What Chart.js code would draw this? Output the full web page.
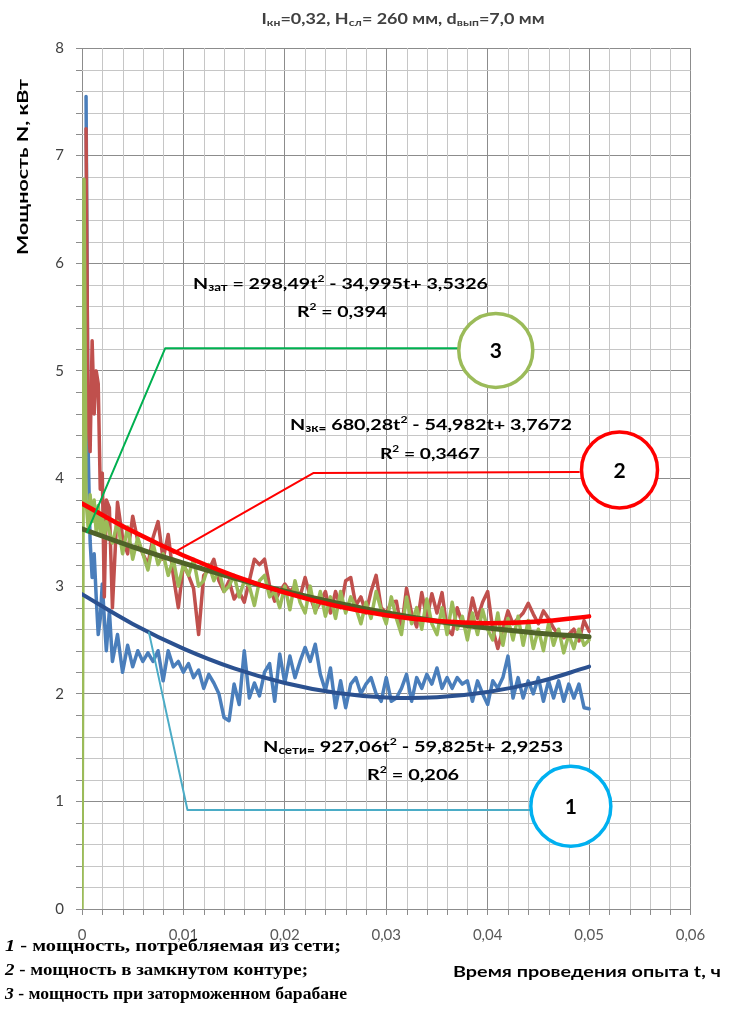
<!DOCTYPE html>
<html><head><meta charset="utf-8">
<script src="https://cdn.jsdelivr.net/npm/chart.js@4.4.0/dist/chart.umd.min.js"></script>
<style>html,body{margin:0;padding:0;background:#fff;}canvas{display:block;}</style>
</head><body>
<canvas id="c" width="734" height="1025"></canvas>
<script>
// ---- data (t, hours; N, kW) ----
const times = [0,0.0002,0.0004,0.0006,0.0008,0.001,0.0012,0.0014,0.0016,0.0018,0.002,0.0022,0.0024,0.0027,
0.003,0.0035,0.004,0.0045,0.005,0.0055,0.006,0.0065,0.007,0.0075,
0.008,0.0085,0.009,0.0095,0.01,0.0105,0.011,0.0115,0.012,0.0125,
0.013,0.0135,0.014,0.0145,0.015,0.0155,0.016,0.0165,0.017,0.0175,
0.018,0.0185,0.019,0.0195,0.02,0.0205,0.021,0.0215,0.022,0.0225,
0.023,0.0235,0.024,0.0245,0.025,0.0255,0.026,0.0265,0.027,0.0275,
0.028,0.0285,0.029,0.0295,0.03,0.0305,0.031,0.0315,0.032,0.0325,
0.033,0.0335,0.034,0.0345,0.035,0.0355,0.036,0.0365,0.037,0.0375,
0.038,0.0385,0.039,0.0395,0.04,0.0405,0.041,0.0415,0.042,0.0425,
0.043,0.0435,0.044,0.0445,0.045,0.0455,0.046,0.0465,0.047,0.0475,
0.048,0.0485,0.049,0.0495,0.05];

// 1 - power drawn from the network
const powerNet = [null,null,7.55,4.3,3.42,3.08,3.3,2.9,2.55,2.7,3.02,2.7,2.4,2.77,
2.3,2.55,2.2,2.45,2.25,2.4,2.3,2.38,2.3,2.4,
2.12,2.4,2.25,2.3,2.2,2.28,2.15,2.22,2.05,2.18,
2.1,2.0,1.78,1.75,2.09,1.9,2.4,1.96,2.1,1.98,
2.2,2.28,1.93,2.37,2.1,2.35,2.15,2.3,2.43,2.3,
2.46,2.18,2.03,2.24,1.87,2.12,1.87,2.09,2.15,2.0,
2.09,2.15,2.0,1.93,2.15,1.93,1.96,2.05,2.18,1.93,
2.15,2.05,2.18,2.09,2.24,2.05,2.15,2.05,2.15,2.09,
2.12,1.93,2.12,2.0,1.9,2.12,2.05,2.15,2.35,1.96,
2.15,1.96,2.12,2.0,2.15,1.93,2.12,1.96,2.12,1.93,
2.09,1.96,2.09,1.87,1.86];

// 2 - power in the closed loop
const powerLoop = [null,null,7.25,4.5,4.25,5.28,4.6,5.0,4.88,3.9,4.05,2.9,3.8,3.73,
2.8,3.78,3.45,3.3,3.65,3.42,3.3,3.2,3.45,3.6,
3.25,3.48,3.1,2.8,3.2,3.1,2.98,2.55,3.1,3.15,
3.25,3.05,2.95,3.05,2.88,2.95,2.85,3.05,3.25,3.2,
3.25,3.0,2.86,2.95,3.02,2.95,3.0,2.9,3.08,2.9,
2.77,2.85,2.95,2.75,2.95,2.8,3.05,3.08,2.82,2.9,
2.75,2.95,3.1,2.8,2.75,2.85,2.86,2.6,2.98,2.75,
2.62,2.94,2.7,2.93,2.75,2.94,2.6,2.55,2.8,2.65,
2.62,2.89,2.7,2.85,2.95,2.6,2.42,2.6,2.77,2.65,
2.7,2.75,2.84,2.74,2.65,2.77,2.7,2.61,2.55,2.52,
2.55,2.6,2.49,2.68,2.58];

// 3 - power with the drum braked
const powerLocked = [0,6.78,3.8,3.55,3.85,3.6,3.8,3.5,3.75,3.5,3.65,3.45,3.6,3.5,
3.4,3.6,3.3,3.55,3.25,3.45,3.3,3.15,3.4,3.2,
3.3,3.1,3.25,3.0,3.2,3.1,3.25,3.0,3.05,3.2,
3.05,3.15,2.95,3.0,3.1,2.9,3.05,3.0,2.82,3.05,
3.1,2.9,2.95,2.8,3.0,2.78,3.05,2.85,2.75,3.0,
2.75,2.95,2.72,2.9,2.7,2.95,2.75,2.9,2.8,2.65,
2.85,2.7,2.95,2.78,2.65,2.9,2.7,2.55,2.9,2.65,
2.8,2.6,2.88,2.65,2.55,2.8,2.55,2.85,2.6,2.72,
2.5,2.75,2.55,2.78,2.6,2.5,2.75,2.45,2.7,2.5,
2.72,2.45,2.68,2.42,2.6,2.4,2.65,2.45,2.6,2.38,
2.55,2.42,2.6,2.45,2.5];

// polynomial trend lines
const trendTimes = [0,0.005,0.01,0.015,0.02,0.025,0.03,0.035,0.04,0.045,0.05];
const trendNet    = [2.925,2.649,2.420,2.236,2.100,2.009,1.965,1.967,2.016,2.110,2.252];
const trendLoop   = [3.767,3.509,3.285,3.096,2.940,2.818,2.730,2.676,2.656,2.671,2.719];
const trendLocked = [3.533,3.365,3.213,3.075,2.952,2.845,2.752,2.674,2.610,2.563,2.529];

// callout leader lines and numbered circles
const callout1T = [0.0066,0.0104,0.0445];  const callout1N = [2.57,0.92,0.92];
const callout2T = [0.009,0.0228,0.049];    const callout2N = [3.31,4.05,4.06];
const callout3T = [0.0005,0.0082,0.0371];  const callout3N = [3.5,5.21,5.21];
const circleT = [0.0482,0.053,0.0408];
const circleN = [0.955,4.08,5.19];
const circleLabels = ['1','2','3'];

// tick labels
const xTickLabels = ['0','0,01','0,02','0,03','0,04','0,05','0,06'];
const yTickLabels = ['0','1','2','3','4','5','6','7','8'];
const xMinorStep = 0.002, yMinorStep = 0.2;

// ---- helpers ----
const pts = (xs, ys) => xs.map((x, i) => ({x, y: ys[i]})).filter(p => p.y !== null);
const SANS = 'Lato, "Open Sans", sans-serif';
const SERIF = '"Liberation Serif", "DejaVu Serif", serif';
const MAJOR = '#8C8C8C', MINOR = '#C6C6C6';

function drawRuns(ctx, runs, x, y, o) {
  ctx.save();
  ctx.textBaseline = 'alphabetic';
  const fontFor = r => `${r.italic ? 'italic ' : ''}${r.weight || o.weight || 'bold'} ${(o.size * (r.k || 1)).toFixed(1)}px ${r.family || o.family}`;
  let total = 0;
  const ws = runs.map(r => { ctx.font = fontFor(r); const w = ctx.measureText(r.t).width; total += w; return w; });
  const sx = o.width ? o.width / total : 1;
  const startX = o.align === 'left' ? x : x - total * sx / 2;
  ctx.translate(startX, y);
  ctx.scale(sx, 1);
  let cx = 0;
  runs.forEach((r, i) => {
    ctx.font = fontFor(r);
    ctx.fillStyle = r.color || o.color || '#000';
    ctx.fillText(r.t, cx, (r.dy || 0) * o.size);
    cx += ws[i];
  });
  ctx.restore();
}

const sub = t => ({t, k: 0.68, dy: 0.12});
const sup = t => ({t, k: 0.62, dy: -0.42});

// minor grid lines + minor tick marks
const minorGrid = {
  id: 'minorGrid',
  beforeDatasetsDraw(chart) {
    const {ctx, chartArea: a, scales: {x, y}} = chart;
    ctx.save();
    ctx.lineWidth = 1;
    const nx = Math.round((x.max - x.min) / xMinorStep);
    for (let i = 0; i <= nx; i++) {
      if (i % 5 === 0) continue;
      const px = Math.round(x.getPixelForValue(i * xMinorStep)) + 0.5;
      ctx.strokeStyle = MINOR;
      ctx.beginPath(); ctx.moveTo(px, a.top); ctx.lineTo(px, a.bottom); ctx.stroke();
      ctx.strokeStyle = MAJOR;
      ctx.beginPath(); ctx.moveTo(px, a.bottom); ctx.lineTo(px, a.bottom + 6); ctx.stroke();
    }
    const ny = Math.round((y.max - y.min) / yMinorStep);
    for (let j = 0; j <= ny; j++) {
      if (j % 5 === 0) continue;
      const py = Math.round(y.getPixelForValue(j * yMinorStep)) + 0.5;
      ctx.strokeStyle = MINOR;
      ctx.beginPath(); ctx.moveTo(a.left, py); ctx.lineTo(a.right, py); ctx.stroke();
      ctx.strokeStyle = MAJOR;
      ctx.beginPath(); ctx.moveTo(a.left - 6, py); ctx.lineTo(a.left, py); ctx.stroke();
    }
    ctx.restore();
  }
};

const textPlugin = {
  id: 'texts',
  afterDraw(chart) {
    const ctx = chart.ctx;
    const xs = chart.scales.x, ys = chart.scales.y;
    // title
    drawRuns(ctx, [{t:'I'}, sub('кн'), {t:'=0,32, H'}, sub('сл'), {t:'= 260 мм, d'}, sub('вып'), {t:'=7,0 мм'}],
      403, 24, {size: 15, family: SANS, color: '#404040', width: 283});
    // equations
    drawRuns(ctx, [{t:'N'}, sub('зат'), {t:' = 298,49t'}, sup('2'), {t:' - 34,995t+ 3,5326'}], 340.5, 289, {size: 16, family: SANS, width: 295});
    drawRuns(ctx, [{t:'R'}, sup('2'), {t:' = 0,394'}], 342, 317, {size: 16, family: SANS, width: 90});
    drawRuns(ctx, [{t:'N'}, sub('зк='), {t:' 680,28t'}, sup('2'), {t:' - 54,982t+ 3,7672'}], 431, 430, {size: 16, family: SANS, width: 282});
    drawRuns(ctx, [{t:'R'}, sup('2'), {t:' = 0,3467'}], 430, 459, {size: 16, family: SANS, width: 100});
    drawRuns(ctx, [{t:'N'}, sub('сети='), {t:' 927,06t'}, sup('2'), {t:' - 59,825t+ 2,9253'}], 413, 752, {size: 16, family: SANS, width: 300});
    drawRuns(ctx, [{t:'R'}, sup('2'), {t:' = 0,206'}], 413, 780, {size: 16, family: SANS, width: 92});
    // circle numbers
    ctx.save();
    ctx.font = 'bold 21px ' + SANS;
    ctx.fillStyle = '#000';
    ctx.textAlign = 'center';
    ctx.textBaseline = 'middle';
    circleLabels.forEach((s, i) => ctx.fillText(s, xs.getPixelForValue(circleT[i]), ys.getPixelForValue(circleN[i]) + 1));
    ctx.restore();
    // axis titles
    ctx.save();
    ctx.translate(23, 167);
    ctx.rotate(-Math.PI / 2);
    drawRuns(ctx, [{t:'Мощность N, кВт'}], 0, 5, {size: 15, family: SANS, width: 176});
    ctx.restore();
    drawRuns(ctx, [{t:'Время проведения опыта t, ч'}], 587, 977, {size: 15, family: SANS, width: 268});
    // legend notes
    drawRuns(ctx, [{t:'1', italic: true}, {t:' - мощность, потребляемая из сети;'}], 5, 951, {size: 17, family: SERIF, width: 336, align: 'left'});
    drawRuns(ctx, [{t:'2', italic: true}, {t:' - мощность в замкнутом контуре;'}], 5, 975, {size: 17, family: SERIF, width: 303, align: 'left'});
    drawRuns(ctx, [{t:'3', italic: true}, {t:' - мощность при заторможенном барабане'}], 5, 999, {size: 17, family: SERIF, width: 342, align: 'left'});
  }
};

const lineDs = (label, data, color, width, order) => ({
  label, data, showLine: true, borderColor: color, backgroundColor: color,
  borderWidth: width, pointRadius: 0, tension: 0, order, borderJoinStyle: 'round', borderCapStyle: 'round'
});

new Chart(document.getElementById('c'), {
  type: 'scatter',
  data: {
    datasets: [
      {
        label: 'circles', data: pts(circleT, circleN), showLine: false,
        pointRadius: [40, 38, 37], pointHoverRadius: [40, 38, 37],
        pointBackgroundColor: '#ffffff', pointBorderColor: ['#00B0F0', '#FF0000', '#9BBB59'],
        pointBorderWidth: 3.5, order: 0, clip: false
      },
      lineDs('callout1', pts(callout1T, callout1N), '#4BACC6', 2, 1),
      lineDs('callout2', pts(callout2T, callout2N), '#FF0000', 2, 1),
      lineDs('callout3', pts(callout3T, callout3N), '#00B050', 2, 1),
      Object.assign(lineDs('trend2', pts(trendTimes, trendLoop), '#FF0000', 4.5, 2), {tension: 0.4}),
      Object.assign(lineDs('trend3', pts(trendTimes, trendLocked), '#4F6228', 5, 3), {tension: 0.4}),
      Object.assign(lineDs('trend1', pts(trendTimes, trendNet), '#2B5190', 4, 4), {tension: 0.4}),
      lineDs('3', pts(times, powerLocked), '#9BBB59', 3.5, 5),
      lineDs('2', pts(times, powerLoop), '#C0504D', 3.5, 6),
      lineDs('1', pts(times, powerNet), '#4A7EBB', 3.5, 7)
    ]
  },
  options: {
    responsive: false,
    animation: false,
    devicePixelRatio: 1,
    layout: {padding: {left: 0, top: 48, right: 30, bottom: 0}},
    plugins: {legend: {display: false}, tooltip: {enabled: false}, title: {display: false}},
    scales: {
      x: {
        type: 'linear', min: 0, max: 0.06,
        afterFit: s => { s.height = 116; },
        ticks: {
          stepSize: 0.01, autoSkip: false, maxRotation: 0, minRotation: 0, padding: 11,
          color: '#595959', font: {family: SANS, size: 15},
          callback: v => xTickLabels[Math.round(v / 0.01)]
        },
        grid: {color: MAJOR, tickColor: MAJOR, tickLength: 6, drawTicks: true, lineWidth: 1},
        border: {color: MAJOR, width: 1}
      },
      y: {
        type: 'linear', min: 0, max: 8,
        afterFit: s => { s.width = 82; },
        ticks: {
          stepSize: 1, autoSkip: false, padding: 12,
          color: '#404040', font: {family: SANS, size: 15},
          callback: v => yTickLabels[Math.round(v)]
        },
        grid: {color: MAJOR, tickColor: MAJOR, tickLength: 6, drawTicks: true, lineWidth: 1},
        border: {color: MAJOR, width: 1}
      }
    }
  },
  plugins: [minorGrid, textPlugin]
});
</script>
</body></html>
